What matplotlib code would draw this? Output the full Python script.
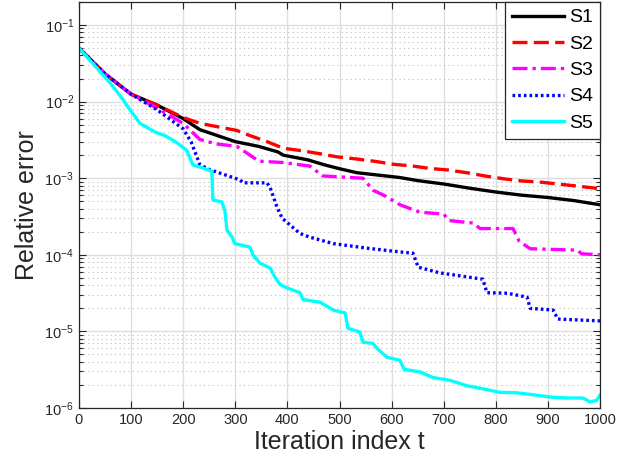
import matplotlib
matplotlib.use("Agg")
import matplotlib.pyplot as plt
from matplotlib.ticker import LogLocator, FixedLocator, NullFormatter

plt.rcParams['font.family'] = ['Liberation Sans', 'DejaVu Sans']
plt.rcParams['mathtext.default'] = 'regular'

# iteration index / relative error
t1 = [0, 50, 100, 150, 200, 232, 300, 345, 382, 392, 440, 470, 500, 533, 616,
      650, 700, 750, 800, 850, 900, 950, 1000]
s1 = [0.05, 0.023, 0.0125, 9.0e-3, 6.0e-3, 4.3e-3, 3.0e-3, 2.6e-3, 2.2e-3, 2.0e-3,
      1.73e-3, 1.5e-3, 1.33e-3, 1.18e-3, 1.02e-3, 9.3e-4, 8.4e-4, 7.4e-4, 6.6e-4,
      6.0e-4, 5.6e-4, 5.1e-4, 4.5e-4]

t2 = [0, 50, 100, 150, 200, 232, 303, 328, 361, 392, 424, 460, 495, 533, 568,
      603, 641, 674, 708, 744, 779, 816, 850, 885, 919, 955, 1000]
s2 = [0.05, 0.023, 0.0125, 9.0e-3, 6.2e-3, 5.2e-3, 4.2e-3, 3.6e-3, 3.0e-3, 2.46e-3,
      2.3e-3, 2.1e-3, 1.9e-3, 1.78e-3, 1.66e-3, 1.52e-3, 1.44e-3, 1.34e-3, 1.28e-3,
      1.18e-3, 1.07e-3, 9.8e-4, 9.2e-4, 8.9e-4, 8.4e-4, 7.9e-4, 7.3e-4]

t3 = [0, 50, 100, 150, 200, 232, 264, 303, 328, 345, 392, 443, 468, 545, 564,
      589, 616, 654, 700, 710, 756, 770, 833, 845, 866, 956, 965, 1000]
s3 = [0.05, 0.023, 0.0125, 8.2e-3, 5.2e-3, 3.2e-3, 2.8e-3, 2.6e-3, 2.0e-3, 1.67e-3,
      1.6e-3, 1.44e-3, 1.07e-3, 1.0e-3, 7.0e-4, 5.8e-4, 4.5e-4, 3.6e-4, 3.4e-4,
      2.8e-4, 2.6e-4, 2.2e-4, 2.2e-4, 1.5e-4, 1.2e-4, 1.15e-4, 1.03e-4, 1.0e-4]

t4 = [0, 50, 100, 150, 200, 215, 232, 251, 309, 315, 361, 367, 380, 390, 424,
      443, 488, 553, 616, 641, 651, 693, 775, 783, 822, 860, 866, 910, 919, 1000]
s4 = [0.05, 0.023, 0.0125, 7.8e-3, 4.4e-3, 3.0e-3, 1.5e-3, 1.29e-3, 9.5e-4, 8.7e-4,
      8.7e-4, 7.5e-4, 4.2e-4, 3.0e-4, 1.9e-4, 1.7e-4, 1.4e-4, 1.22e-4, 1.09e-4,
      1.05e-4, 6.9e-5, 5.8e-5, 4.8e-5, 3.2e-5, 3.15e-5, 2.8e-5, 2.0e-5, 1.9e-5,
      1.45e-5, 1.37e-5]

t5 = [0, 60, 85, 94, 117, 146, 165, 188, 207, 213, 219, 232, 255, 257, 274, 280,
      284, 294, 299, 328, 334, 347, 367, 376, 386, 399, 424, 430, 463, 488, 511,
      516, 539, 545, 564, 572, 591, 616, 624, 655, 679, 712, 745, 775, 808, 841,
      871, 904, 937, 967, 981, 994, 1000]
s5 = [0.05, 0.0175, 0.0105, 8.5e-3, 5.2e-3, 4.0e-3, 3.6e-3, 2.9e-3, 2.3e-3, 1.83e-3,
      1.48e-3, 1.4e-3, 1.24e-3, 5.2e-4, 4.9e-4, 3.8e-4, 2.1e-4, 1.7e-4, 1.4e-4,
      1.26e-4, 1.0e-4, 7.8e-5, 6.7e-5, 5.1e-5, 4.1e-5, 3.7e-5, 3.2e-5, 2.6e-5,
      2.4e-5, 1.9e-5, 1.74e-5, 1.1e-5, 9.8e-6, 7.2e-6, 7.0e-6, 6.0e-6, 4.6e-6,
      4.2e-6, 3.2e-6, 2.95e-6, 2.5e-6, 2.3e-6, 1.95e-6, 1.78e-6, 1.6e-6, 1.58e-6,
      1.49e-6, 1.39e-6, 1.35e-6, 1.35e-6, 1.2e-6, 1.26e-6, 1.47e-6]

xticks = list(range(0, 1001, 100))

fig = plt.figure(figsize=(6.34, 4.70), dpi=100)
ax = fig.add_axes([0.1246, 0.1319, 0.8218, 0.8640])

lw = 2.4
ax.plot(t1, s1, color='k', lw=lw, label='S1')
ax.plot(t2, s2, color='#ff0000', lw=lw, dashes=(4.5, 1.9), label='S2')
ax.plot(t3, s3, color='#ff00ff', lw=lw, dashes=(4.5, 1.5, 1.0, 1.5), label='S3')
ax.plot(t4, s4, color='#0000ff', lw=lw, dashes=(0.8, 0.9), label='S4')
ax.plot(t5, s5, color='#00ffff', lw=lw, label='S5')

ax.set_yscale('log')
ax.set_xlim(0, 1000)
ax.set_ylim(1e-6, 0.2)
ax.set_xticks(xticks)
ax.yaxis.set_major_locator(FixedLocator([1e-6, 1e-5, 1e-4, 1e-3, 1e-2, 1e-1]))
ax.yaxis.set_minor_locator(LogLocator(base=10, subs=range(2, 10), numticks=20))
ax.yaxis.set_minor_formatter(NullFormatter())

gc = '#262626'
for sp in ax.spines.values():
    sp.set_color(gc)
    sp.set_linewidth(0.9)
ax.tick_params(which='both', direction='in', top=True, right=True, colors=gc,
               labelsize=10.5, width=0.8)
ax.tick_params(which='major', length=5)
ax.tick_params(which='minor', length=3)

ax.grid(True, which='major', color='#dedede', lw=1.0, ls='-')
ax.grid(True, which='minor', axis='y', color='#bdbdbd', lw=0.8, ls=(0, (1, 3)))
ax.set_axisbelow(True)

ax.set_xlabel('Iteration index t', fontsize=18, color=gc, labelpad=2)
ax.set_ylabel('Relative error', fontsize=18, color=gc, labelpad=4)

leg = ax.legend(loc='upper right', bbox_to_anchor=(1, 1), borderaxespad=0,
                fontsize=14, handlelength=2.7, handletextpad=0.25,
                labelspacing=0.45, borderpad=0.35, fancybox=False, framealpha=1)
leg.get_frame().set_edgecolor(gc)
leg.get_frame().set_linewidth(0.9)

fig.savefig('out.png', dpi=100)
